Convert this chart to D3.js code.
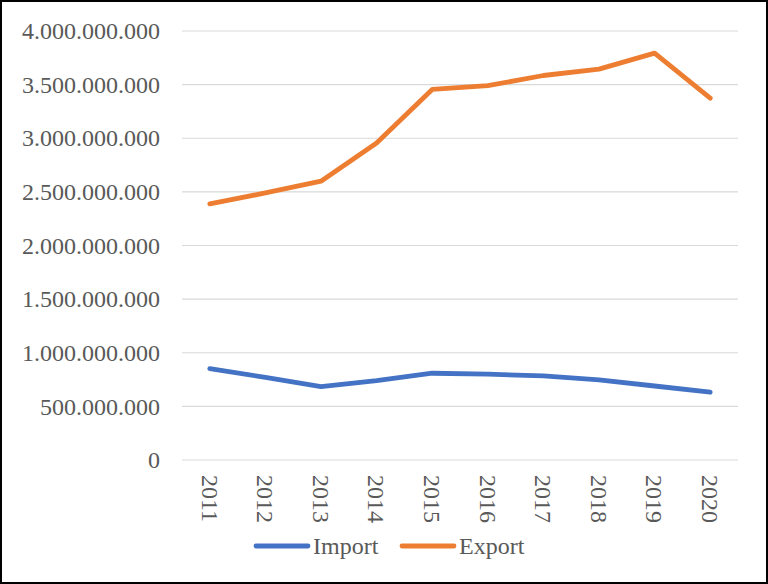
<!DOCTYPE html>
<html>
<head>
<meta charset="utf-8">
<script src="https://cdn.jsdelivr.net/npm/d3@7"></script>
<style>
  html, body { margin: 0; padding: 0; background: #fff; }
  svg { display: block; }
  text { font-family: "Liberation Serif", "Times New Roman", serif; fill: #595959; }
</style>
</head>
<body>
<svg id="chart" width="768" height="584"></svg>
<script>
// Yearly trade values
const years = ["2011", "2012", "2013", "2014", "2015", "2016", "2017", "2018", "2019", "2020"];
const importValues = [852e6, 770e6, 684e6, 740e6, 809e6, 800e6, 784e6, 748e6, 690e6, 632e6];
const exportValues = [2388e6, 2490e6, 2600e6, 2955e6, 3455e6, 3490e6, 3585e6, 3645e6, 3794e6, 3374e6];
const yTicks = [0, 500e6, 1000e6, 1500e6, 2000e6, 2500e6, 3000e6, 3500e6, 4000e6];
const seriesNames = ["Import", "Export"];
const seriesColors = ["#4472C4", "#ED7D31"];

const W = 768, H = 584;
const plot = { left: 182, right: 738, top: 31, bottom: 460 };

const svg = d3.select("#chart");

// outer frame
svg.append("rect")
  .attr("x", 1).attr("y", 1).attr("width", W - 2).attr("height", H - 2)
  .attr("fill", "#fff").attr("stroke", "#000").attr("stroke-width", 2);

const x = d3.scaleBand().domain(years).range([plot.left, plot.right]);
const y = d3.scaleLinear().domain([0, 4000e6]).range([plot.bottom, plot.top]);

const fmt = v => v === 0 ? "0" : d3.format(",")(v).replace(/,/g, ".");

// horizontal gridlines
svg.append("g").selectAll("line").data(yTicks).join("line")
  .attr("x1", plot.left).attr("x2", plot.right)
  .attr("y1", d => y(d)).attr("y2", d => y(d))
  .attr("stroke", "#d9d9d9").attr("stroke-width", 1.2);

// y axis labels
const yAxis = d3.axisLeft(y).tickValues(yTicks).tickFormat(fmt).tickSize(0).tickPadding(22);
const gy = svg.append("g").attr("transform", `translate(${plot.left},0)`).call(yAxis);
gy.select(".domain").remove();
gy.selectAll("text")
  .style("font-family", '"Liberation Serif", "Times New Roman", serif')
  .style("font-size", "24px").attr("fill", "#595959");

// x axis labels, rotated
const xAxis = d3.axisBottom(x).tickSize(0).tickPadding(0);
const gx = svg.append("g").attr("transform", `translate(0,${plot.bottom})`).call(xAxis);
gx.select(".domain").remove();
gx.selectAll("text")
  .style("font-family", '"Liberation Serif", "Times New Roman", serif')
  .style("font-size", "24px").attr("fill", "#595959")
  .attr("transform", "rotate(90)")
  .attr("text-anchor", "start")
  .attr("x", 15).attr("y", 0).attr("dy", "0.34em");

// series lines
const line = d3.line()
  .x((d, i) => x(years[i]) + x.bandwidth() / 2)
  .y(d => y(d));

[importValues, exportValues].forEach((vals, k) => {
  svg.append("path")
    .datum(vals)
    .attr("d", line)
    .attr("fill", "none")
    .attr("stroke", seriesColors[k])
    .attr("stroke-width", 4.8)
    .attr("stroke-linejoin", "round")
    .attr("stroke-linecap", "round");
});

// legend
const legendItems = [
  { name: seriesNames[0], color: seriesColors[0], x0: 256 },
  { name: seriesNames[1], color: seriesColors[1], x0: 402 }
];
const legend = svg.append("g");
legendItems.forEach(it => {
  legend.append("line")
    .attr("x1", it.x0).attr("x2", it.x0 + 52)
    .attr("y1", 546).attr("y2", 546)
    .attr("stroke", it.color).attr("stroke-width", 4.8)
    .attr("stroke-linecap", "round");
  legend.append("text")
    .attr("x", it.x0 + 57).attr("y", 546).attr("dy", "0.34em")
    .style("font-size", "24px")
    .text(it.name);
});
</script>
</body>
</html>
